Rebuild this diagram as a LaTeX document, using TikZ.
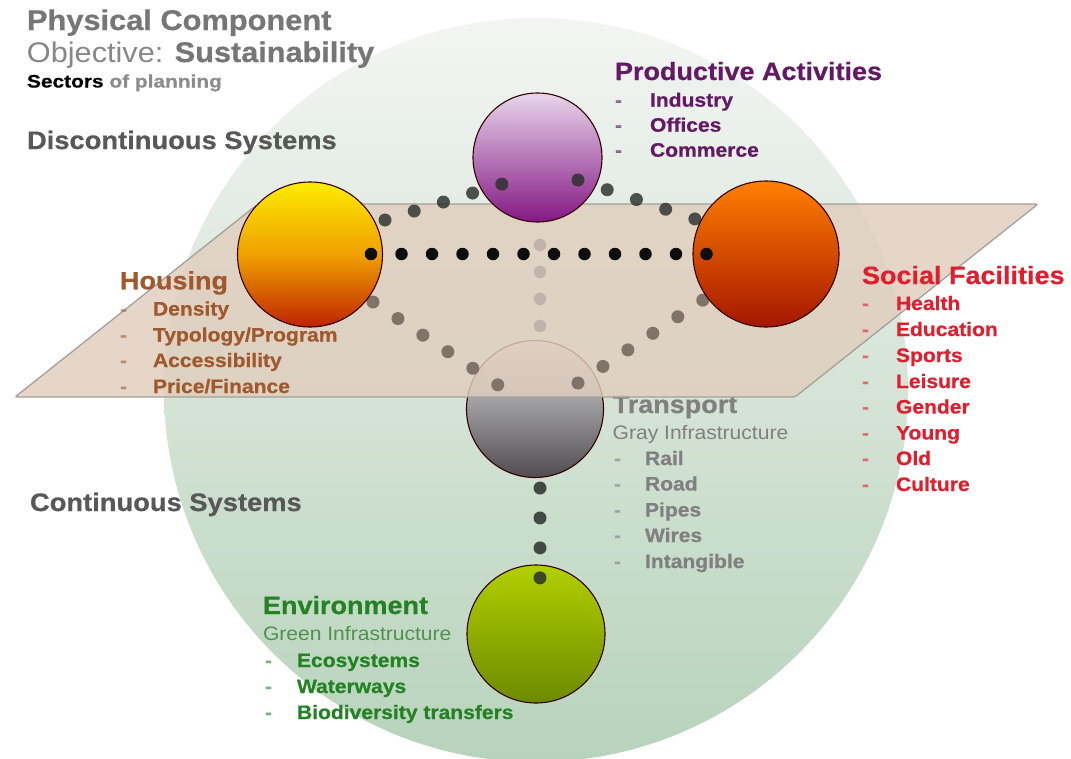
\documentclass[tikz,border=0pt]{standalone}
\usepackage{fontspec}
\setmainfont{Liberation Sans}[FakeStretch=1.08, BoldFeatures={FakeBold=0.6}]
\newfontfamily\widefont{Liberation Sans}[FakeStretch=1.16, BoldFeatures={FakeBold=0.6}]
\newcommand{\fsz}[1]{\fontsize{#1}{#1}\selectfont}
\definecolor{bgtop}{RGB}{243,245,243}
\definecolor{bgbot}{RGB}{183,211,187}
\definecolor{planefill}{RGB}{224,206,190}
\definecolor{planeedge}{RGB}{165,160,155}
\definecolor{titlegray}{RGB}{118,118,118}
\definecolor{objgray}{RGB}{135,135,135}
\definecolor{ofgray}{RGB}{140,140,140}
\definecolor{sysgray}{RGB}{88,88,88}
\definecolor{prodc}{RGB}{100,25,100}
\definecolor{housec}{RGB}{160,88,45}
\definecolor{socc}{RGB}{225,30,45}
\definecolor{transc}{RGB}{128,128,128}
\definecolor{envc}{RGB}{35,130,35}
\definecolor{envlight}{RGB}{80,145,80}
\definecolor{dotdark}{RGB}{42,48,45}
\definecolor{dotlow}{RGB}{112,100,90}
\definecolor{dotcenter}{RGB}{192,180,170}
\begin{document}
\begin{tikzpicture}[x=1pt,y=-1pt,
  txt/.style={anchor=base west, inner sep=0pt, outer sep=0pt},
  headfont/.style={font=\fsz{25}\bfseries},
  itemfont/.style={font=\fsz{19.5}\bfseries},
  dashmark/.style={txt, itemfont, text opacity=0.6},
  ball/.style={circle, draw=black!80!red, line width=1.1pt, inner sep=0pt, minimum size=#1},
  dotrow/.style={line width=13pt, line cap=round, dash pattern=on 0pt off #1},
  planestyle/.style={fill=planefill, fill opacity=0.82, draw=planeedge, line width=1.3pt, rounded corners=2pt}
]
\useasboundingbox (0,0) rectangle (1071,758);
\fill[white] (0,0) rectangle (1071,758);
% big background sphere
\shade[top color=bgtop, bottom color=bgbot] (536,390) circle (372pt);

% titles
\node[txt, font=\fsz{28.5}\bfseries, text=titlegray] (t1) at (27,30) {Physical Component};
\node[txt, font=\fsz{28.4}, text=objgray] (t2) at (27,62) {Objective: \textcolor{titlegray}{\bfseries Sustainability}};
\node[txt, font=\widefont\fsz{18}\bfseries, text=black] (t3) at (27,87.5) {Sectors \textcolor{ofgray}{of planning}};
\node[txt, font=\fsz{25.3}\bfseries, text=sysgray] (disc) at (27,149) {Discontinuous Systems};
\node[txt, font=\fsz{25.3}\bfseries, text=sysgray] (cont) at (30,511) {Continuous Systems};

% transport sphere (under the plane)
\node[ball=137pt, top color={rgb,255:red,218;green,218;blue,218}, bottom color={rgb,255:red,80;green,76;blue,80}, middle color={rgb,255:red,152;green,151;blue,154}] (transport) at (535,409) {};
\node[txt, headfont, text=transc] (transT) at (612.7,413) {Transport};

% plane
\draw[planestyle] (15,397) -- (258,204) -- (1038,204) -- (795,397) -- cycle;

% environment sphere
\node[ball=138pt, top color={rgb,255:red,178;green,208;blue,0}, bottom color={rgb,255:red,108;green,138;blue,0}] (env) at (536,634) {};

% named ends of dotted links
\coordinate (la) at (373,302); \coordinate (lb) at (498,385);
\coordinate (ra) at (578,383); \coordinate (rb) at (703,300);
\coordinate (ca) at (540,245); \coordinate (cb) at (540,326);
\coordinate (ga) at (540,488); \coordinate (gb) at (540,578);
\coordinate (ha) at (371,254); \coordinate (hb) at (707,254);
\coordinate (pa) at (385,220); \coordinate (pb) at (502,184);
\coordinate (qa) at (578,180); \coordinate (qb) at (695,219);

% lower links (housing-transport, social-transport, centre)
\draw[dotrow=29.95pt, draw=dotlow, draw opacity=0.85] (la) -- (lb);
\draw[dotrow=29.95pt, draw=dotlow, draw opacity=0.85] (ra) -- (rb);
\draw[dotrow=26.95pt, line width=12.5pt, draw=dotcenter] (ca) -- (cb);
% transport - environment
\draw[dotrow=29.95pt, draw=dotdark, draw opacity=0.85] (ga) -- (gb);

% spheres above the plane
\node[ball=145pt, top color={rgb,255:red,252;green,236;blue,0}, bottom color={rgb,255:red,190;green,35;blue,0}, middle color={rgb,255:red,240;green,160;blue,0}] (housing) at (310,254.5) {};
\node[ball=146pt, top color={rgb,255:red,255;green,128;blue,0}, bottom color={rgb,255:red,165;green,22;blue,0}] (social) at (766,254) {};
\node[ball=129pt, top color={rgb,255:red,232;green,214;blue,236}, bottom color={rgb,255:red,132;green,24;blue,132}] (prod) at (537.5,157.5) {};

% upper links
\draw[dotrow=30.5pt, line width=12.5pt, draw=black!95] (ha) -- (hb);
\draw[dotrow=30.55pt, draw=dotdark, draw opacity=0.82] (pa) -- (pb);
\draw[dotrow=30.8pt, draw=dotdark, draw opacity=0.82] (qa) -- (qb);

% Productive Activities
\node[txt, headfont, text=prodc] (prodT) at (615,80) {Productive Activities};
\foreach \t/\y in {Industry/106.7, Offices/131.7, Commerce/156.7}{
  \node[dashmark, text=prodc] at (615,\y) {-};
  \node[txt, itemfont, text=prodc] at (650,\y) {\t};
}

% Housing
\node[txt, headfont, text=housec] (houseT) at (120,289.3) {Housing};
\foreach \t/\y in {Density/315.5, Typology\slash Program/341.5, Accessibility/367, Price\slash Finance/393}{
  \node[dashmark, text=housec] at (120,\y) {-};
  \node[txt, itemfont, text=housec] at (153,\y) {\t};
}

% Social Facilities
\node[txt, headfont, text=socc] (socT) at (862,284) {Social Facilities};
\foreach \t/\y in {Health/310, Education/336, Sports/362, Leisure/388, Gender/413.5, Young/439.5, Old/465, Culture/491}{
  \node[dashmark, text=socc] at (862,\y) {-};
  \node[txt, itemfont, text=socc] at (896,\y) {\t};
}

% Transport list
\node[txt, font=\fsz{19.5}, text=transc] (grayI) at (612.7,439) {Gray Infrastructure};
\foreach \t/\y in {Rail/465, Road/490.5, Pipes/516.5, Wires/542, Intangible/568}{
  \node[dashmark, text=transc] at (614,\y) {-};
  \node[txt, itemfont, text=transc] at (645,\y) {\t};
}

% Environment
\node[txt, headfont, text=envc] (envT) at (263,614) {Environment};
\node[txt, font=\fsz{19.5}, text=envlight] (greenI) at (263,640.5) {Green Infrastructure};
\foreach \t/\y in {Ecosystems/667, Waterways/693, Biodiversity transfers/719}{
  \node[dashmark, text=envc] at (265,\y) {-};
  \node[txt, itemfont, text=envc] at (297,\y) {\t};
}
\end{tikzpicture}
\end{document}
